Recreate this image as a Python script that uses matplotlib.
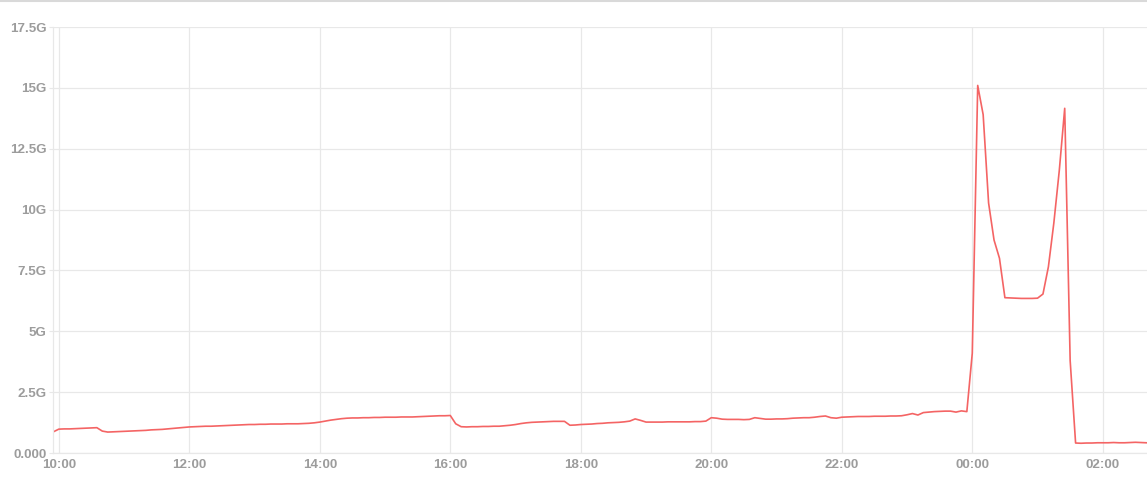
#!/usr/bin/env python3
"""Traffic / throughput line chart, 5-minute samples from 09:55 to 02:40."""
import matplotlib
matplotlib.use("Agg")
import matplotlib.pyplot as plt
import matplotlib.dates as mdates
import pandas as pd
from matplotlib.lines import Line2D

start = "2023-01-01 09:55"
step = "5min"

# values in G, one list per hour (12 samples, every 5 minutes)
v_0955 = [0.87]
v_10 = [0.98, 0.99, 0.99, 1.00, 1.01, 1.02, 1.03, 1.04, 0.90, 0.86, 0.87, 0.88]
v_11 = [0.89, 0.90, 0.91, 0.92, 0.93, 0.95, 0.96, 0.97, 0.99, 1.01, 1.03, 1.05]
v_12 = [1.07, 1.08, 1.09, 1.10, 1.10, 1.11, 1.12, 1.13, 1.14, 1.15, 1.16, 1.17]
v_13 = [1.17, 1.18, 1.18, 1.19, 1.19, 1.19, 1.20, 1.20, 1.20, 1.21, 1.22, 1.24]
v_14 = [1.27, 1.31, 1.35, 1.38, 1.41, 1.43, 1.44, 1.44, 1.45, 1.45, 1.46, 1.46]
v_15 = [1.47, 1.47, 1.47, 1.48, 1.48, 1.48, 1.49, 1.50, 1.51, 1.52, 1.53, 1.53]
v_16 = [1.54, 1.20, 1.08, 1.07, 1.08, 1.08, 1.09, 1.09, 1.10, 1.10, 1.12, 1.14]
v_17 = [1.17, 1.21, 1.24, 1.26, 1.27, 1.28, 1.29, 1.30, 1.30, 1.30, 1.14, 1.15]
v_18 = [1.17, 1.18, 1.19, 1.21, 1.22, 1.24, 1.25, 1.26, 1.28, 1.31, 1.40, 1.34]
v_19 = [1.27, 1.27, 1.27, 1.27, 1.28, 1.28, 1.28, 1.28, 1.28, 1.29, 1.29, 1.31]
v_20 = [1.45, 1.43, 1.39, 1.38, 1.38, 1.38, 1.37, 1.38, 1.45, 1.42, 1.39, 1.39]
v_21 = [1.40, 1.40, 1.41, 1.43, 1.44, 1.45, 1.45, 1.47, 1.50, 1.52, 1.45, 1.43]
v_22 = [1.47, 1.48, 1.49, 1.50, 1.50, 1.50, 1.51, 1.51, 1.51, 1.52, 1.52, 1.53]
v_23 = [1.57, 1.62, 1.56, 1.66, 1.68, 1.70, 1.71, 1.72, 1.72, 1.68, 1.73, 1.70]
v_00 = [4.10, 15.10, 13.90, 10.27, 8.75, 8.00, 6.38, 6.37, 6.36, 6.35, 6.35, 6.35]
v_01 = [6.36, 6.53, 7.65, 9.45, 11.60, 14.16, 3.80, 0.41, 0.40, 0.41, 0.41, 0.42]
v_02 = [0.42, 0.42, 0.43, 0.42, 0.42, 0.43, 0.44, 0.43, 0.42]

y_ticks = [0, 2.5, 5, 7.5, 10, 12.5, 15, 17.5]
y_tick_labels = ["0.000", "2.5G", "5G", "7.5G", "10G", "12.5G", "15G", "17.5G"]

LINE = "#f46464"
GRID = "#e8e8e8"
TEXT = "#9c9c9c"


def main():
    values = (v_0955 + v_10 + v_11 + v_12 + v_13 + v_14 + v_15 + v_16 + v_17
              + v_18 + v_19 + v_20 + v_21 + v_22 + v_23 + v_00 + v_01 + v_02)
    times = pd.date_range(start, periods=len(values), freq=step)

    fig = plt.figure(figsize=(11.47, 4.82), dpi=100)
    ax = fig.add_axes([53 / 1147, 1 - 453 / 482, 1 - 53 / 1147, 426 / 482])

    ax.plot(times, values, color=LINE, linewidth=1.2, solid_joinstyle="round")

    ax.set_xlim(pd.Timestamp("2023-01-01 09:54:40"), pd.Timestamp("2023-01-02 02:40:40"))
    ax.set_ylim(0, 17.5)
    ax.set_yticks(y_ticks)
    ax.set_yticklabels(y_tick_labels)
    ax.xaxis.set_major_locator(mdates.HourLocator(byhour=range(0, 24, 2)))
    ax.xaxis.set_major_formatter(mdates.DateFormatter("%H:%M"))

    ax.grid(True, color=GRID, linewidth=0.9)
    ax.set_axisbelow(True)
    for side in ("top", "right"):
        ax.spines[side].set_visible(False)
    for side in ("left", "bottom"):
        ax.spines[side].set_color(GRID)
        ax.spines[side].set_linewidth(0.9)

    ax.tick_params(axis="y", length=3, color=GRID, pad=1.5)
    ax.tick_params(axis="x", length=0, pad=4)
    for lbl in ax.get_xticklabels() + ax.get_yticklabels():
        lbl.set_family("Liberation Sans")
        lbl.set_fontsize(9.6)
        lbl.set_fontweight("bold")
        lbl.set_color(TEXT)

    # thin border along the top of the panel
    fig.add_artist(Line2D([0, 1], [0.998, 0.998], transform=fig.transFigure,
                          color="#d9d9d9", linewidth=1.5))

    fig.savefig("out.png", dpi=100)
    plt.close(fig)


if __name__ == "__main__":
    main()
